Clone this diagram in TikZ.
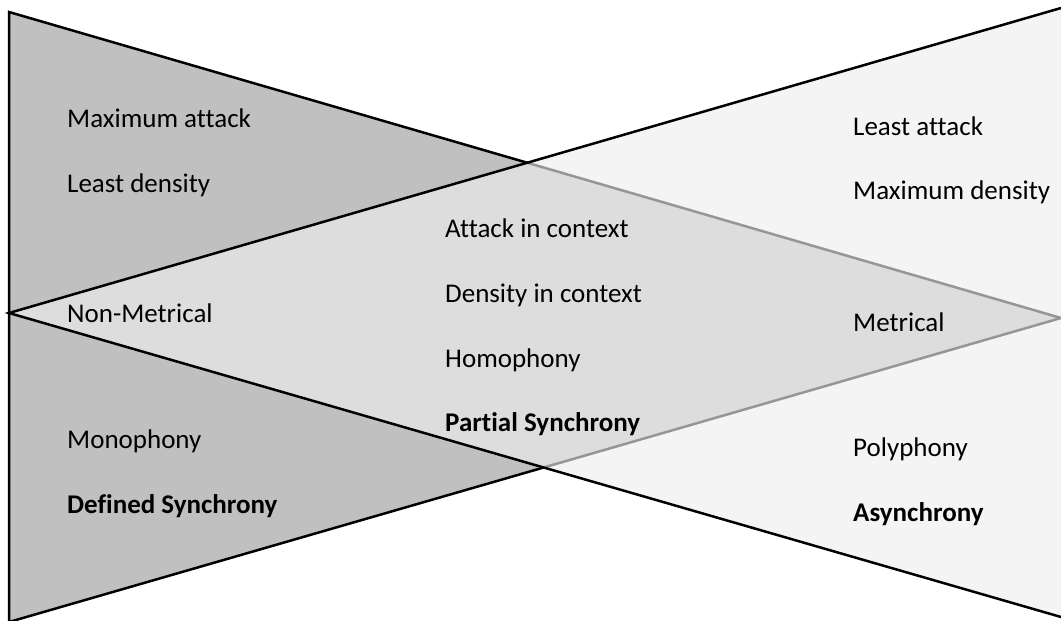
\documentclass[tikz,border=0pt]{standalone}
\usepackage{fontspec}
\setmainfont[Ligatures=NoCommon]{Carlito}
\begin{document}
\begin{tikzpicture}[x=1bp,y=-1bp,
  lbl/.style={anchor=base west, inner sep=0pt, font=\fontsize{27bp}{31bp}\selectfont},
  blbl/.style={lbl, font=\fontsize{27bp}{31bp}\selectfont\bfseries},
  edge/.style={line width=2.5bp, black, line join=miter},
  darkfill/.style={fill={rgb,255:red,192;green,192;blue,192}},
  lightfill/.style={fill={rgb,255:red,238;green,238;blue,238}, fill opacity=0.63}]
\useasboundingbox (0,0) rectangle (1061,621);
\coordinate (LT) at (9,12);
\coordinate (LB) at (9,622);
\coordinate (LP) at (1061,318);
\coordinate (RT) at (1061,8);
\coordinate (RB) at (1061,617);
\coordinate (RP) at (9,313);
% left (dark) triangle
\fill[darkfill] (LT) -- (LB) -- (LP) -- cycle;
\draw[edge] (LP) -- (LT) -- (LB) -- (LP);
% right (light, translucent) triangle
\fill[lightfill] (RT) -- (RP) -- (RB) -- cycle;
\draw[edge] (RT) -- (RP) -- (RB);
% labels
\node[lbl] (maxatt) at (67,128) {Maximum attack};
\node[lbl] (leastden) at (67,193) {Least density};
\node[lbl] (nonmet) at (67,322) {Non-Metrical};
\node[lbl] (mono) at (67,448) {Monophony};
\node[blbl] (defsync) at (67,513) {Defined Synchrony};
\node[lbl] (attctx) at (445,238) {Attack in context};
\node[lbl] (denctx) at (445,303) {Density in context};
\node[lbl] (homo) at (445,367) {Homophony};
\node[blbl] (partsync) at (445,431) {Partial Synchrony};
\node[lbl] (leastatt) at (853,136) {Least attack};
\node[lbl] (maxden) at (853,200) {Maximum density};
\node[lbl] (met) at (853,331) {Metrical};
\node[lbl] (poly) at (853,456) {Polyphony};
\node[blbl] (async) at (853,521) {Asynchrony};
\end{tikzpicture}
\end{document}
